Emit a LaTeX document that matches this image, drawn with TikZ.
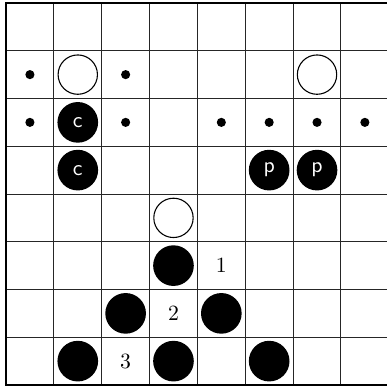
\documentclass[tikz,border=0pt]{standalone}
\begin{document}
\begin{tikzpicture}[x=0.46pt,y=-0.46pt,
  gridline/.style={line width=0.45pt,draw=black!85},
  border/.style={line width=1pt,draw=black},
  bstone/.style={circle,fill=black,minimum size=18.7pt,inner sep=0pt,text=white,font=\sffamily},
  wstone/.style={circle,draw=black,fill=white,line width=0.5pt,minimum size=18.1pt,inner sep=0pt},
  mark dot/.style={circle,fill=black,minimum size=4.2pt,inner sep=0pt},
  numlabel/.style={inner sep=0pt,font=\normalsize}]
\useasboundingbox (0,0) rectangle (386,389);
\fill[white] (0,0) rectangle (386,389);
% grid
\foreach \i in {1,...,7} {
  \draw[gridline] ({6+47.85*\i},3) -- ({6+47.85*\i},385);
  \draw[gridline] (6,{3+47.75*\i}) -- (389,{3+47.75*\i});
}
\draw[border] (6,3) rectangle (389,385);
% cell centres: col c -> 6+47.85*(c+0.5), row r -> 3+47.75*(r+0.5)
\newcommand{\cx}[1]{6+47.85*(#1+0.5)}
\newcommand{\cy}[1]{3+47.75*(#1+0.5)}
% row 1
\node[mark dot] (d10) at ({\cx{0}},{\cy{1}}) {};
\node[wstone]   (w11) at ({\cx{1}},{\cy{1}}) {};
\node[mark dot] (d12) at ({\cx{2}},{\cy{1}}) {};
\node[wstone]   (w16) at ({\cx{6}},{\cy{1}}) {};
% row 2
\node[mark dot] (d20) at ({\cx{0}},{\cy{2}}) {};
\node[bstone]   (b21) at ({\cx{1}},{\cy{2}}) {c};
\node[mark dot] (d22) at ({\cx{2}},{\cy{2}}) {};
\node[mark dot] (d24) at ({\cx{4}},{\cy{2}}) {};
\node[mark dot] (d25) at ({\cx{5}},{\cy{2}}) {};
\node[mark dot] (d26) at ({\cx{6}},{\cy{2}}) {};
\node[mark dot] (d27) at ({\cx{7}},{\cy{2}}) {};
% row 3
\node[bstone]   (b31) at ({\cx{1}},{\cy{3}}) {c};
\node[bstone]   (b35) at ({\cx{5}},{\cy{3}}) {p};
\node[bstone]   (b36) at ({\cx{6}},{\cy{3}}) {p};
% row 4
\node[wstone]   (w43) at ({\cx{3}},{\cy{4}}) {};
% row 5
\node[bstone]   (b53) at ({\cx{3}},{\cy{5}}) {};
\node[numlabel] (n1)  at ({\cx{4}},{\cy{5}}) {1};
% row 6
\node[bstone]   (b62) at ({\cx{2}},{\cy{6}}) {};
\node[numlabel] (n2)  at ({\cx{3}},{\cy{6}}) {2};
\node[bstone]   (b64) at ({\cx{4}},{\cy{6}}) {};
% row 7
\node[bstone]   (b71) at ({\cx{1}},{\cy{7}}) {};
\node[numlabel] (n3)  at ({\cx{2}},{\cy{7}}) {3};
\node[bstone]   (b73) at ({\cx{3}},{\cy{7}}) {};
\node[bstone]   (b75) at ({\cx{5}},{\cy{7}}) {};
\end{tikzpicture}
\end{document}
